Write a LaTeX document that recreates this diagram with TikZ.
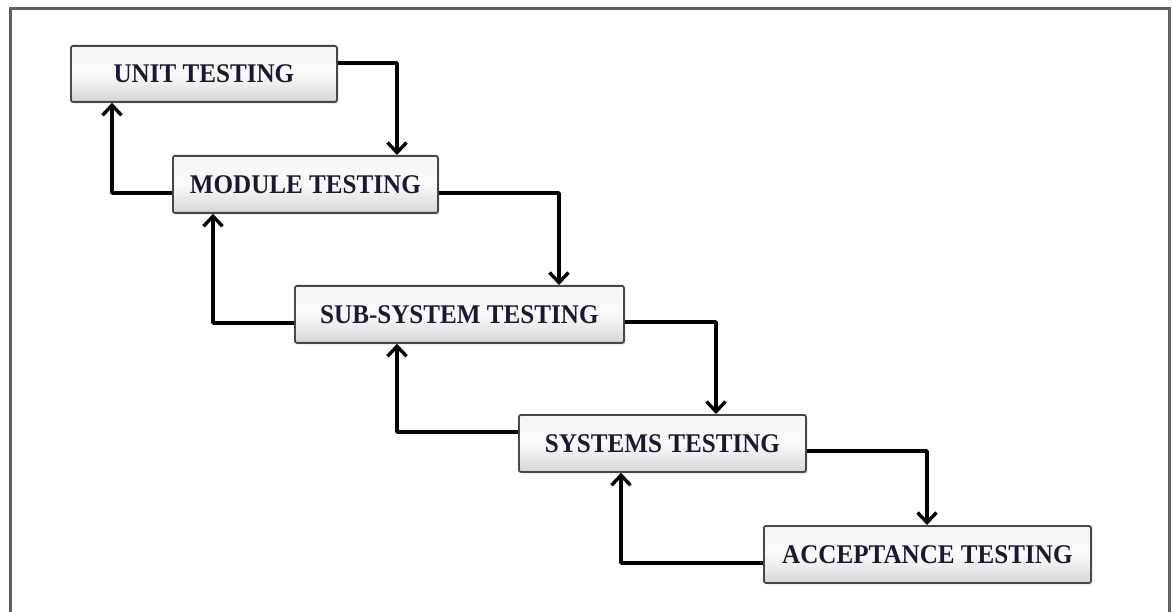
\documentclass[tikz,border=0pt]{standalone}
\usepackage{fontspec}
\setmainfont{Liberation Serif}
\newfontfamily\lblfont[FakeStretch=0.93]{Liberation Serif}
\usetikzlibrary{arrows.meta,shadows}
\definecolor{txt}{rgb}{0.10,0.10,0.20}
\definecolor{boxedge}{rgb}{0.28,0.28,0.28}
\begin{document}
\begin{tikzpicture}[x=1pt,y=-1pt,
  stagebox/.style={draw=boxedge,line width=1.8pt,rounded corners=2pt,
    top color=gray!8,bottom color=gray!32,middle color=gray!4,
    drop shadow={shadow xshift=1.5pt,shadow yshift=-1.5pt,opacity=0.35},
    font=\lblfont\fontsize{27}{30}\selectfont\bfseries,text=txt,
    inner sep=0pt,anchor=north west},
  flow/.style={line width=3.6pt,-{Straight Barb[length=10pt,width=19pt,line width=3.4pt]},line join=round}]
\useasboundingbox (0,0) rectangle (1173,612);
\fill[white] (0,0) rectangle (1173,612);
\draw[gray!75!black,line width=3pt] (10,612) -- (10,8.5) -- (1169.5,8.5) -- (1169.5,612);

\node[stagebox,minimum width=266pt,minimum height=56pt] (unit) at (70,45) {UNIT TESTING};
\node[stagebox,minimum width=265pt,minimum height=57pt] (module) at (172,155) {MODULE TESTING};
\node[stagebox,minimum width=329pt,minimum height=57pt] (sub) at (294,285) {SUB-SYSTEM TESTING};
\node[stagebox,minimum width=287pt,minimum height=57pt] (sys) at (518,414) {SYSTEMS TESTING};
\node[stagebox,minimum width=327pt,minimum height=57pt] (acc) at (763,525) {ACCEPTANCE TESTING};

% forward arrows
\draw[flow] (unit.east |- 0,63) -| (module.north -| 397,0);
\draw[flow] (module.east |- 0,193) -| (sub.north -| 559,0);
\draw[flow] (sub.east |- 0,322) -| (sys.north -| 716,0);
\draw[flow] (sys.east |- 0,451) -| (acc.north -| 927,0);

% backward arrows
\draw[flow] (module.west |- 0,193) -| (unit.south -| 112,0);
\draw[flow] (sub.west |- 0,323) -| (module.south -| 213,0);
\draw[flow] (sys.west |- 0,432) -| (sub.south -| 397,0);
\draw[flow] (acc.west |- 0,563) -| (sys.south -| 621,0);
\end{tikzpicture}
\end{document}
